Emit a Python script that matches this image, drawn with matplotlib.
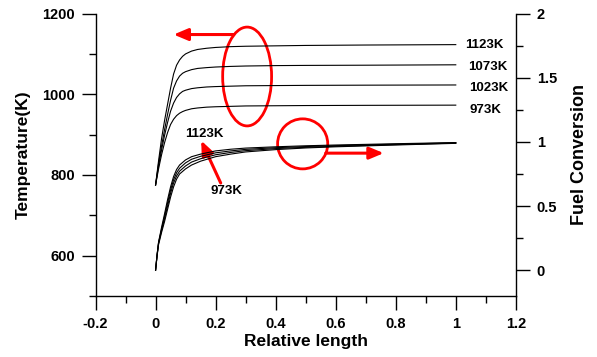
import matplotlib
matplotlib.use("Agg")
import matplotlib.pyplot as plt
from matplotlib.patches import Ellipse, FancyArrowPatch
from matplotlib.ticker import MultipleLocator

plt.rcParams['font.family'] = ['Liberation Sans', 'DejaVu Sans']
plt.rcParams['font.weight'] = 'bold'

# temperature profiles (left axis)
x_temp = [0, 0.01, 0.02, 0.03, 0.04, 0.05, 0.06, 0.07, 0.08, 0.09, 0.1,
          0.12, 0.14, 0.17, 0.2, 0.25, 0.3, 0.4, 0.5, 0.7, 1.0]
temp_1123 = [775, 835, 890, 935, 975, 1015, 1050, 1072, 1085, 1094, 1100,
             1107, 1111, 1114, 1116, 1118, 1119, 1120, 1121, 1122, 1123]
temp_1073 = [775, 828, 872, 912, 950, 985, 1015, 1033, 1045, 1052, 1056,
             1061, 1064, 1066, 1067.5, 1069, 1070, 1071, 1071.5, 1072, 1073]
temp_1023 = [775, 822, 862, 898, 930, 958, 978, 992, 1001, 1007, 1010,
             1014, 1016, 1018, 1019, 1020, 1021, 1021.5, 1022, 1022.5, 1023]
temp_973 = [775, 815, 850, 880, 905, 925, 938, 947, 953, 957, 960,
            964, 966, 968, 969, 970, 971, 971.5, 972, 972.5, 973]

# fuel conversion profiles (right axis)
x_conv = [0, 0.005, 0.01, 0.02, 0.03, 0.04, 0.05, 0.06, 0.07, 0.08, 0.1,
          0.12, 0.15, 0.2, 0.25, 0.3, 0.4, 0.5, 0.6, 0.8, 1.0]
conv_1123 = [0, 0.12, 0.22, 0.335, 0.44, 0.55, 0.65, 0.73, 0.785, 0.82, 0.86,
             0.885, 0.905, 0.93, 0.943, 0.952, 0.962, 0.97, 0.976, 0.986, 0.995]
conv_1073 = [0, 0.12, 0.215, 0.32, 0.42, 0.525, 0.625, 0.705, 0.76, 0.795, 0.837,
             0.865, 0.888, 0.915, 0.93, 0.942, 0.955, 0.964, 0.971, 0.982, 0.993]
conv_1023 = [0, 0.115, 0.21, 0.31, 0.40, 0.50, 0.60, 0.68, 0.735, 0.772, 0.813,
             0.843, 0.869, 0.9, 0.918, 0.932, 0.948, 0.958, 0.966, 0.979, 0.991]
conv_973 = [0, 0.11, 0.2, 0.295, 0.38, 0.475, 0.57, 0.65, 0.71, 0.75, 0.79,
            0.82, 0.85, 0.885, 0.905, 0.922, 0.94, 0.953, 0.962, 0.976, 0.989]

temp_series = [temp_1123, temp_1073, temp_1023, temp_973]
conv_series = [conv_1123, conv_1073, conv_1023, conv_973]
labels = ['1123K', '1073K', '1023K', '973K']
label_pos = [(1.03, 1122), (1.04, 1067), (1.045, 1015), (1.045, 961)]

fig = plt.figure(figsize=(5.97, 3.57), dpi=100)
ax = fig.add_axes([0.160, 0.171, 0.704, 0.791])
ax2 = ax.twinx()

for t in temp_series:
    ax.plot(x_temp, t, color='black', lw=0.8)
for c in conv_series:
    ax2.plot(x_conv, c, color='black', lw=0.8)

ax.set_xlim(-0.2, 1.2)
ax.set_ylim(500, 1200)
ax2.set_ylim(-0.2, 2)

ax.set_xticks([-0.2, 0, 0.2, 0.4, 0.6, 0.8, 1.0, 1.2])
ax.set_xticklabels(['-0.2', '0', '0.2', '0.4', '0.6', '0.8', '1', '1.2'])
ax.xaxis.set_minor_locator(MultipleLocator(0.1))
ax.set_yticks([600, 800, 1000, 1200])
ax.yaxis.set_minor_locator(MultipleLocator(100))
ax2.set_yticks([0, 0.5, 1, 1.5, 2])
ax2.set_yticklabels(['0', '0.5', '1', '1.5', '2'])
ax2.yaxis.set_minor_locator(MultipleLocator(0.25))

for a in (ax, ax2):
    a.spines['top'].set_visible(False)
    for s in ('left', 'right', 'bottom'):
        a.spines[s].set_linewidth(1.0)
    a.tick_params(which='major', direction='out', length=10, width=1.0,
                  labelsize=10.5, pad=5)
    a.tick_params(which='minor', direction='out', length=5, width=1.0)
    for lbl in a.get_xticklabels() + a.get_yticklabels():
        lbl.set_fontweight('bold')
ax.spines['right'].set_visible(False)
ax2.spines['left'].set_visible(False)
ax2.spines['bottom'].set_visible(False)

ax.set_xlabel('Relative length', fontsize=12.5, fontweight='bold', labelpad=2)
ax.set_ylabel('Temperature(K)', fontsize=12.5, fontweight='bold', labelpad=8)
ax2.set_ylabel('Fuel Conversion', fontsize=13, fontweight='bold', labelpad=10)

for lab, (lx, ly) in zip(labels, label_pos):
    ax.text(lx, ly, lab, fontsize=9.5, fontweight='bold', ha='left', va='center')
ax.text(0.163, 901, '1123K', fontsize=9.5, fontweight='bold', ha='center', va='center')
ax.text(0.235, 760, '973K', fontsize=9.5, fontweight='bold', ha='center', va='center')

# red annotations
red = '#ff0000'
ax.add_patch(Ellipse((0.305, 1044), 0.163, 245, fill=False, ec=red, lw=2))
ax.add_patch(Ellipse((0.49, 877), 0.167, 124, fill=False, ec=red, lw=2))
arrow_style = '-|>,head_length=0.86,head_width=0.36'
arrows = [((0.26, 1148), (0.06, 1148)),
          ((0.567, 854), (0.76, 854)),
          ((0.217, 780), (0.152, 885))]
for start, end in arrows:
    ax.add_patch(FancyArrowPatch(start, end, arrowstyle=arrow_style,
                                 mutation_scale=10, color=red, lw=2.2,
                                 shrinkA=0, shrinkB=0))

fig.savefig('out.png', dpi=100)
